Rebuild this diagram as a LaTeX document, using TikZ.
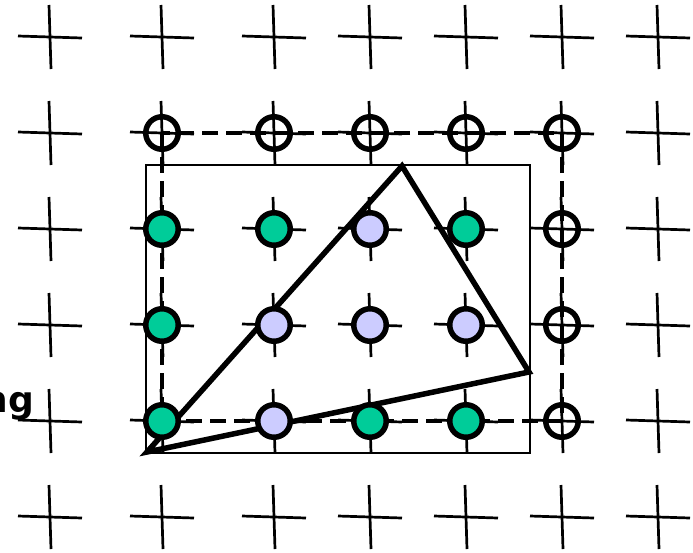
\documentclass[tikz,border=0pt]{standalone}
\usepackage{fontspec}
\newfontfamily\labelfont{DejaVu Sans}
\definecolor{ptgreen}{HTML}{00CC99}
\definecolor{ptlav}{HTML}{CCCCFF}
\tikzset{
  crossline/.style={line width=2.7pt, black},
  thinbox/.style={draw, line width=2.8pt},
  dashbox/.style={draw, line width=4.5pt, dash pattern=on 16pt off 8pt},
  tri/.style={draw, line width=5.5pt, line join=miter},
  sample/.style={circle, draw, line width=5.5pt, minimum size=32.5pt, inner sep=0pt},
  opensample/.style={sample},
  insample/.style={sample, fill=ptgreen},
  outsample/.style={sample, fill=ptlav},
}
\begin{document}
\begin{tikzpicture}[x=1pt,y=-1pt]
\useasboundingbox (0,0) rectangle (693,552);
\clip (0,0) rectangle (693,552);
% grid crosses
\foreach \cx in {50,162,274,370,466,562,658}{
  \foreach \cy in {37,133,229,325,421,517}{
    \draw[crossline] (\cx-1,\cy-32) -- (\cx+1,\cy+32);
    \draw[crossline] (\cx-32,\cy-1) -- (\cx+32,\cy+1);
  }
}
% label (partly cut off, as in the reference)
\node[anchor=base east, inner sep=0pt, font=\labelfont\bfseries\fontsize{36}{40}\selectfont] (lbl) at (34,412) {ng};
% bounding box of triangle
\coordinate (bb1) at (146,165);
\coordinate (bb2) at (530,453);
\draw[thinbox] (bb1) rectangle (bb2);
% dashed pixel region
\coordinate (dr1) at (162,133);
\coordinate (dr2) at (562,421);
\draw[dashbox] (dr1) rectangle (dr2);
% triangle
\coordinate (ta) at (147,452);
\coordinate (tb) at (402,166);
\coordinate (tc) at (529,372);
\draw[tri] (ta) -- (tb) -- (tc) -- cycle;
% samples row 1
\node[opensample] (s11) at (162,133) {};
\node[opensample] (s12) at (274,133) {};
\node[opensample] (s13) at (370,133) {};
\node[opensample] (s14) at (466,133) {};
\node[opensample] (s15) at (562,133) {};
% row 2
\node[insample] (s21) at (162,229) {};
\node[insample] (s22) at (274,229) {};
\node[outsample] (s23) at (370,229) {};
\node[insample] (s24) at (466,229) {};
\node[opensample] (s25) at (562,229) {};
% row 3
\node[insample] (s31) at (162,325) {};
\node[outsample] (s32) at (274,325) {};
\node[outsample] (s33) at (370,325) {};
\node[outsample] (s34) at (466,325) {};
\node[opensample] (s35) at (562,325) {};
% row 4
\node[insample] (s41) at (162,421) {};
\node[outsample] (s42) at (274,421) {};
\node[insample] (s43) at (370,421) {};
\node[insample] (s44) at (466,421) {};
\node[opensample] (s45) at (562,421) {};
\end{tikzpicture}
\end{document}
